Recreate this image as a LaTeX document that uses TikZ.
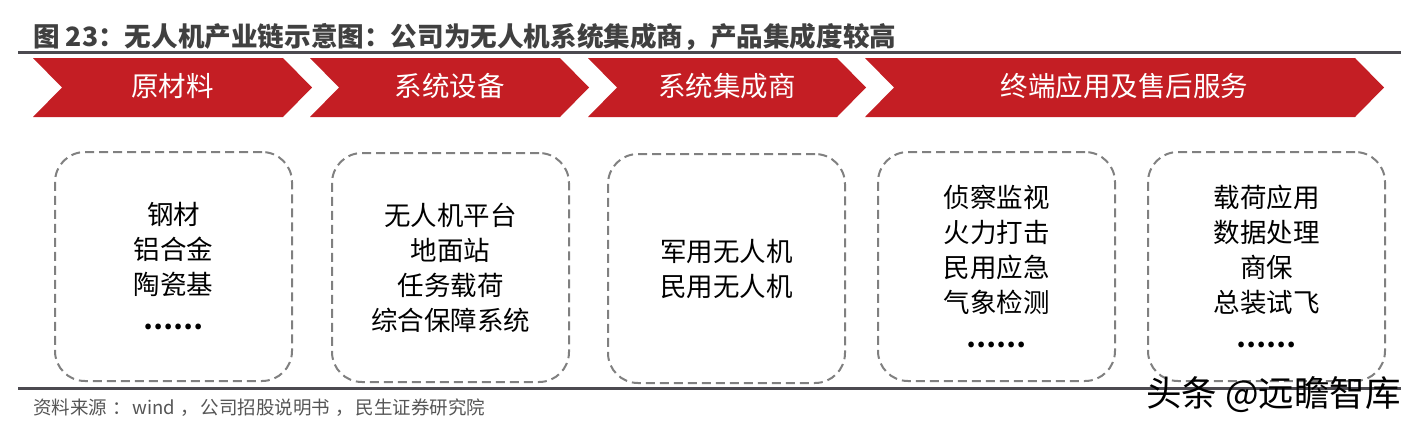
\documentclass[tikz,border=0pt]{standalone}
\usepackage{fontspec}
\newfontfamily\cjk{Noto Sans CJK SC}
\definecolor{chevred}{RGB}{196,30,36}
\definecolor{rulegray}{RGB}{76,74,80}
\definecolor{titlegray}{RGB}{64,64,64}
\definecolor{dashgray}{RGB}{128,128,128}
\definecolor{footgray}{RGB}{85,85,85}
\tikzset{
  chev/.style={fill=chevred, draw=none},
  chevtext/.style={text=white, font=\cjk\fontsize{27.5}{30}\selectfont, inner sep=0pt},
  dbox/.style={draw=dashgray, line width=2pt, dash pattern=on 9pt off 5pt, rounded corners=30pt,
    minimum width=237pt, minimum height=229pt, inner sep=0pt, align=center,
    font=\cjk\fontsize{26.5}{35}\selectfont, text=black},
  rulestyle/.style={draw=rulegray, line width=3pt},
}
\newcommand{\fpunct}[1]{\hspace{5pt}#1\hspace{2pt}}
\newcommand{\dotsix}{{\bfseries ……}}
\begin{document}
\begin{tikzpicture}[x=1pt,y=-1pt]
\useasboundingbox (0,0) rectangle (1419,429);
% title
\node[anchor=west, inner sep=0pt, text=titlegray, font=\cjk\bfseries\fontsize{26.6}{30}\selectfont] (title) at (33,37) {图 23：无人机产业链示意图：公司为无人机系统集成商，产品集成度较高};
\coordinate (r1a) at (18,52);
\coordinate (r1b) at (1401,52);
\draw[rulestyle] (r1a) -- (r1b);
% chevrons
\fill[chev] (33,58) -- (283,58) -- (312,87.5) -- (283,117) -- (33,117) -- (62,87.5) -- cycle;
\fill[chev] (310,58) -- (560,58) -- (589,87.5) -- (560,117) -- (310,117) -- (339,87.5) -- cycle;
\fill[chev] (588,58) -- (837,58) -- (866,87.5) -- (837,117) -- (588,117) -- (617,87.5) -- cycle;
\fill[chev] (865,58) -- (1355,58) -- (1384,87.5) -- (1355,117) -- (865,117) -- (894,87.5) -- cycle;
\node[chevtext] (c1) at (172.5,86.5) {原材料};
\node[chevtext] (c2) at (449.5,86.5) {系统设备};
\node[chevtext] (c3) at (727,86.5) {系统集成商};
\node[chevtext] (c4) at (1124.5,86.5) {终端应用及售后服务};
% boxes
\node[dbox] (b1) at (173.5,266.5) {钢材\\铝合金\\陶瓷基\\\dotsix};
\node[dbox] (b2) at (450.5,267.5) {无人机平台\\地面站\\任务载荷\\综合保障系统};
\node[dbox] (b3) at (726.5,268.5) {军用无人机\\民用无人机};
\node[dbox] (b4) at (996.5,266.5) {侦察监视\\火力打击\\民用应急\\气象检测\\\dotsix};
\node[dbox] (b5) at (1266.5,266.5) {载荷应用\\数据处理\\商保\\总装试飞\\\dotsix};
% bottom rule
\coordinate (r2a) at (18,388);
\coordinate (r2b) at (1401,388);
\draw[rulestyle] (r2a) -- (r2b);
% footer
\node[anchor=west, inner sep=0pt, text=footgray, font=\cjk\fontsize{18.5}{20}\selectfont] (src) at (33,408) {资料来源\fpunct{：}wind\fpunct{，}公司招股说明书\fpunct{，}民生证券研究院};
% watermark
\node[anchor=west, inner sep=0pt, text=black, font=\cjk\fontsize{35.5}{38}\selectfont] (wm) at (1146,395) {头条 @远瞻智库};
\end{tikzpicture}
\end{document}
